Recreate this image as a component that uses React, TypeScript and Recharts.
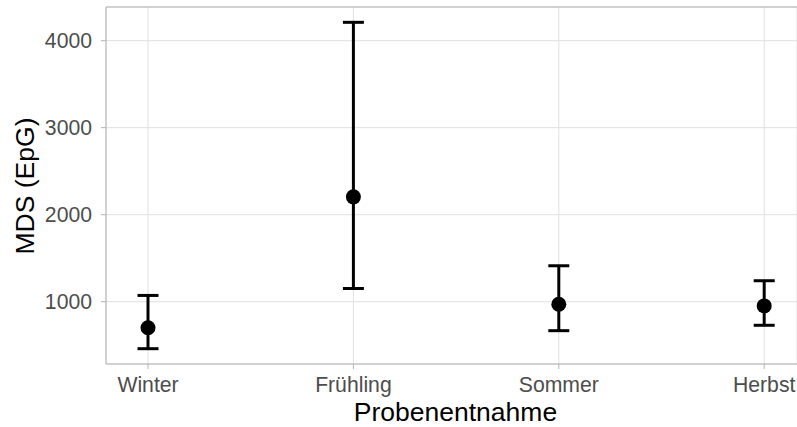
import { ComposedChart, Scatter, ErrorBar, XAxis, YAxis, CartesianGrid, ReferenceLine, Customized } from "recharts"

const categories = ["Winter", "Frühling", "Sommer", "Herbst"]
const means = [700, 2205, 970, 952]
const lower = [460, 1152, 667, 729]
const upper = [1072, 4211, 1413, 1241]
const yTicks = [1000, 2000, 3000, 4000]
const xTicks = [1, 2, 3, 4]

const yDomain = [284, 4387]
const xDomain = [0.7955, 4.1597]

const data = categories.map((name, i) => ({
  name,
  x: i + 1,
  mean: means[i],
  err: [means[i] - lower[i], upper[i] - means[i]],
}))

const FONT = "'Liberation Sans', Arial, sans-serif"
const GRID = "#e0e0e0"
const BORDER = "#b3b3b3"

function YTitle() {
  return (
    <text
      x={34}
      y={186}
      transform="rotate(-90, 34, 186)"
      textAnchor="middle"
      fontSize={26.5}
      fill="#000"
      fontFamily={FONT}
    >
      MDS (EpG)
    </text>
  )
}

export default function App() {
  return (
    <div style={{ position: "absolute", left: 0, top: 0, width: 797, height: 427, background: "#fff" }}>
      <ComposedChart
        width={797}
        height={427}
        data={data}
        margin={{ top: 7, right: 0, bottom: 0, left: 0 }}
        style={{ fontFamily: FONT }}
      >
        <CartesianGrid stroke={GRID} strokeWidth={1} />
        <XAxis
          type="number"
          dataKey="x"
          domain={xDomain}
          ticks={xTicks}
          allowDataOverflow
          tickFormatter={(v) => categories[v - 1]}
          height={63}
          stroke={BORDER}
          tickSize={5}
          tickMargin={8}
          tick={{ fill: "#4d4d4d", fontSize: 21.2 }}
          label={{ value: "Probenentnahme", position: "insideBottom", offset: 6, fontSize: 26.5, fill: "#000", dx: 4 }}
        />
        <YAxis
          type="number"
          domain={yDomain}
          ticks={yTicks}
          allowDataOverflow
          width={106}
          stroke={BORDER}
          tickSize={5}
          tickMargin={9}
          tick={{ fill: "#4d4d4d", fontSize: 21.2 }}
        />
        <ReferenceLine y={yDomain[1]} stroke={BORDER} strokeWidth={1} />
        <Scatter
          dataKey="mean"
          isAnimationActive={false}
          shape={(p: any) => <circle cx={p.cx} cy={p.cy} r={7.5} fill="#000" />}
        >
          <ErrorBar dataKey="err" direction="y" width={10.5} strokeWidth={3} stroke="#000" isAnimationActive={false} />
        </Scatter>
        <Customized component={YTitle} />
      </ComposedChart>
    </div>
  )
}
